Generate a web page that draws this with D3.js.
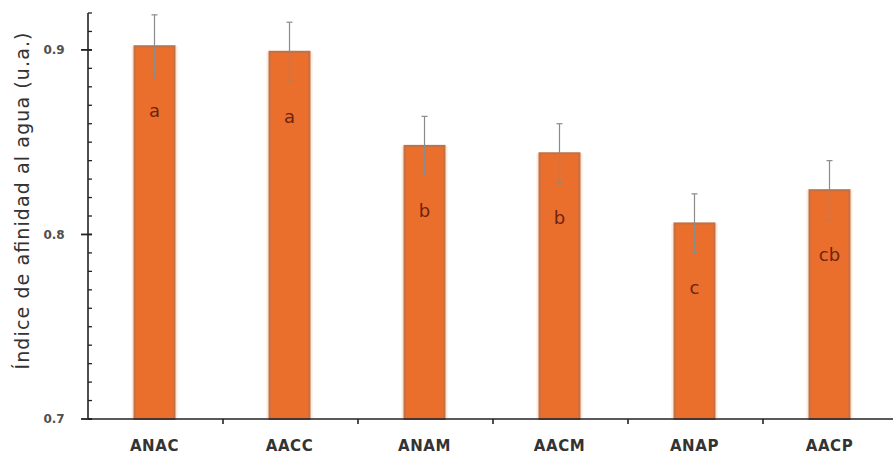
<!DOCTYPE html>
<html>
<head>
<meta charset="utf-8">
<script src="https://cdn.jsdelivr.net/npm/d3@7"></script>
<style>
  html, body { margin: 0; padding: 0; background: #fff; }
  svg { display: block; }
</style>
</head>
<body>
<svg id="chart" width="893" height="456"></svg>
<script>
// Treatments, mean water-affinity index, standard error and significance groups
const categories = ["ANAC", "AACC", "ANAM", "AACM", "ANAP", "AACP"];
const values = [0.902, 0.899, 0.848, 0.844, 0.806, 0.824];
const errors = [0.017, 0.016, 0.016, 0.016, 0.016, 0.016];
const groups = ["a", "a", "b", "b", "c", "cb"];
const yTicks = [0.7, 0.8, 0.9];
const yTickLabels = ["0.7", "0.8", "0.9"];
const yLabel = "Índice de afinidad al agua (u.a.)";

const svg = d3.select("#chart");
const plotLeft = 88, plotRight = 898, plotTop = 13, plotBottom = 419;

const x = d3.scaleBand().domain(categories).range([plotLeft, plotRight]).paddingInner(0).paddingOuter(0);
const y = d3.scaleLinear().domain([0.7, 0.92]).range([plotBottom, plotTop]);

const barW = 40;
const orange = "#EA6E2C";
const cx = (d) => x(d) + x.bandwidth() / 2 - 1;

// Bars: soft peach glow, then the bar with a darker edge
const bars = svg.append("g");
bars.selectAll("rect.glow")
  .data(categories)
  .join("rect")
  .attr("class", "glow")
  .attr("x", (d) => cx(d) - barW / 2 - 3)
  .attr("y", (d, i) => y(values[i]))
  .attr("width", barW + 6)
  .attr("height", (d, i) => y(0.7) - y(values[i]))
  .attr("fill", "#fdeadb");
bars.selectAll("rect.bar")
  .data(categories)
  .join("rect")
  .attr("class", "bar")
  .attr("x", (d) => cx(d) - barW / 2)
  .attr("y", (d, i) => y(values[i]))
  .attr("width", barW)
  .attr("height", (d, i) => y(0.7) - y(values[i]))
  .attr("fill", orange)
  .attr("stroke", "#bf7148")
  .attr("stroke-width", 2);

// Error bars
const eg = svg.append("g").attr("stroke", "#8a8a8a").attr("stroke-width", 1.2);
categories.forEach((c, i) => {
  eg.append("line").attr("x1", cx(c)).attr("x2", cx(c))
    .attr("y1", y(values[i] + errors[i])).attr("y2", y(values[i] - errors[i]));
  [values[i] + errors[i], values[i] - errors[i]].forEach((v) => {
    eg.append("line").attr("x1", cx(c) - 3).attr("x2", cx(c) + 3)
      .attr("y1", y(v)).attr("y2", y(v));
  });
});

// Significance letters
svg.append("g").selectAll("text")
  .data(categories)
  .join("text")
  .attr("x", cx)
  .attr("y", (d, i) => y(values[i]) + 71)
  .attr("text-anchor", "middle")
  .attr("font-family", "DejaVu Sans, sans-serif")
  .attr("font-size", 18)
  .attr("fill", "#6e2410")
  .text((d, i) => groups[i]);

// Y axis: major ticks with labels, minor ticks every 0.01
const yAxis = svg.append("g").attr("transform", `translate(${plotLeft},0)`);
yAxis.append("line").attr("x1", 0).attr("x2", 0).attr("y1", plotTop).attr("y2", plotBottom)
  .attr("stroke", "#222").attr("stroke-width", 1.6);
const minor = d3.range(0, 23).map((k) => 0.7 + k * 0.01);
yAxis.selectAll("line.minor")
  .data(minor)
  .join("line")
  .attr("class", "minor")
  .attr("x1", 0).attr("x2", 4)
  .attr("y1", (d) => y(d)).attr("y2", (d) => y(d))
  .attr("stroke", "#222").attr("stroke-width", 1.3);
yAxis.selectAll("line.major")
  .data(yTicks)
  .join("line")
  .attr("class", "major")
  .attr("x1", -7).attr("x2", 4)
  .attr("y1", (d) => y(d)).attr("y2", (d) => y(d))
  .attr("stroke", "#222").attr("stroke-width", 1.8);
yAxis.selectAll("text")
  .data(yTicks)
  .join("text")
  .attr("x", -34)
  .attr("y", (d) => y(d))
  .attr("dy", "0.36em")
  .attr("text-anchor", "middle")
  .attr("font-family", "DejaVu Sans, sans-serif")
  .attr("font-size", 12)
  .attr("font-weight", "bold")
  .attr("fill", "#505050")
  .text((d, i) => yTickLabels[i]);

// X axis with ticks between categories
const xAxis = svg.append("g").attr("transform", `translate(0,${plotBottom})`);
xAxis.append("line").attr("x1", plotLeft).attr("x2", 893).attr("y1", 0).attr("y2", 0)
  .attr("stroke", "#222").attr("stroke-width", 1.6);
xAxis.selectAll("line.tick")
  .data(categories.slice(1))
  .join("line")
  .attr("class", "tick")
  .attr("x1", (d) => x(d)).attr("x2", (d) => x(d))
  .attr("y1", 0).attr("y2", 5)
  .attr("stroke", "#222").attr("stroke-width", 1.6);
xAxis.selectAll("text")
  .data(categories)
  .join("text")
  .attr("x", cx)
  .attr("y", 32)
  .attr("text-anchor", "middle")
  .attr("font-family", "DejaVu Sans, sans-serif")
  .attr("font-size", 15)
  .attr("font-weight", "bold")
  .attr("letter-spacing", 0.6)
  .attr("fill", "#333")
  .text((d) => d);

// Y axis title
svg.append("text")
  .attr("transform", `translate(29,201) rotate(-90)`)
  .attr("text-anchor", "middle")
  .attr("font-family", "DejaVu Sans, sans-serif")
  .attr("font-size", 19)
  .attr("textLength", 337)
  .attr("lengthAdjust", "spacing")
  .attr("fill", "#333")
  .text(yLabel);
</script>
</body>
</html>
